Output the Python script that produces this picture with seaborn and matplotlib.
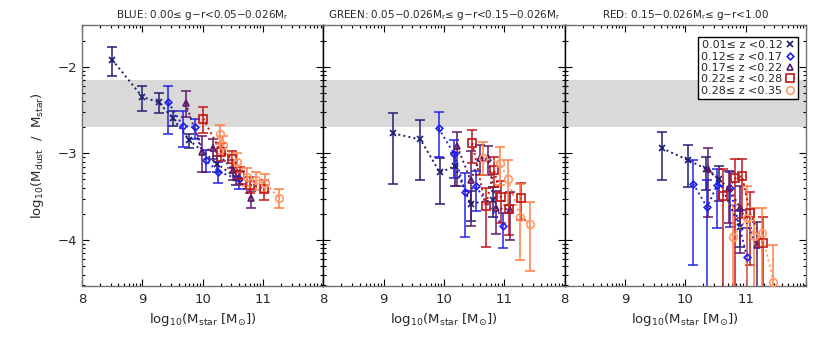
import numpy as np
import pandas as pd
import matplotlib
matplotlib.use("Agg")
import matplotlib.pyplot as plt
from matplotlib.lines import Line2D
import seaborn as sns

# ---------------- data ----------------
panel_titles = [
    "BLUE: 0.00≤ g−r<0.05−0.026M$_r$",
    "GREEN: 0.05−0.026M$_r$≤ g−r<0.15−0.026M$_r$",
    "RED: 0.15−0.026M$_r$≤ g−r<1.00",
]
z_labels = ["0.01≤ z <0.12", "0.12≤ z <0.17", "0.17≤ z <0.22",
            "0.22≤ z <0.28", "0.28≤ z <0.35"]

# BLUE panel: one list per redshift bin
blue_x = [[8.50, 9.00, 9.27, 9.50, 9.78, 10.24, 10.55],
          [9.43, 9.67, 9.87, 10.05, 10.26, 10.60],
          [9.72, 9.99, 10.17, 10.50, 10.80],
          [10.01, 10.30, 10.48, 10.62, 10.79, 11.02],
          [10.28, 10.33, 10.57, 10.73, 10.89, 11.03, 11.26]]
blue_y = [[-1.92, -2.35, -2.41, -2.59, -2.85, -3.12, -3.28],
          [-2.41, -2.68, -2.70, -3.08, -3.21, -3.30],
          [-2.42, -2.98, -2.94, -3.19, -3.52],
          [-2.60, -2.98, -3.06, -3.25, -3.36, -3.41],
          [-2.78, -2.90, -3.10, -3.27, -3.31, -3.34, -3.51]]
blue_ehi = [[0.15, 0.13, 0.11, 0.08, 0.07, 0.09, 0.08],
            [0.19, 0.17, 0.10, 0.12, 0.11, 0.09],
            [0.14, 0.18, 0.11, 0.11, 0.09],
            [0.13, 0.10, 0.09, 0.09, 0.09, 0.10],
            [0.11, 0.10, 0.10, 0.10, 0.10, 0.10, 0.10]]
blue_elo = [[0.19, 0.16, 0.12, 0.09, 0.09, 0.10, 0.09],
            [0.37, 0.25, 0.14, 0.13, 0.13, 0.11],
            [0.16, 0.23, 0.13, 0.12, 0.11],
            [0.16, 0.11, 0.11, 0.10, 0.10, 0.13],
            [0.11, 0.11, 0.11, 0.11, 0.11, 0.11, 0.12]]

# GREEN panel
green_x = [[9.16, 9.61, 9.93, 10.18, 10.44, 10.81],
           [9.91, 10.17, 10.35, 10.53, 10.97],
           [10.22, 10.44, 10.60, 10.73, 10.87, 11.10],
           [10.47, 10.69, 10.83, 10.94, 11.08, 11.28],
           [10.65, 10.93, 11.06, 11.26, 11.43]]
green_y = [[-2.77, -2.84, -3.22, -3.15, -3.58, -3.54],
           [-2.71, -3.01, -3.45, -3.38, -3.84],
           [-2.92, -3.31, -3.05, -3.05, -3.63, -3.65],
           [-2.88, -3.61, -3.19, -3.50, -3.64, -3.52],
           [-3.05, -3.11, -3.30, -3.73, -3.81]]
green_ehi = [[0.24, 0.23, 0.17, 0.15, 0.15, 0.15],
             [0.19, 0.16, 0.22, 0.18, 0.15],
             [0.17, 0.34, 0.15, 0.13, 0.20, 0.20],
             [0.15, 0.21, 0.15, 0.18, 0.18, 0.18],
             [0.18, 0.18, 0.22, 0.38, 0.25]]
green_elo = [[0.58, 0.47, 0.36, 0.23, 0.20, 0.20],
             [0.33, 0.27, 0.52, 0.29, 0.25],
             [0.46, 0.53, 0.20, 0.20, 0.30, 0.35],
             [0.23, 0.47, 0.20, 0.30, 0.30, 0.25],
             [0.20, 0.25, 0.30, 0.50, 0.55]]

# RED panel
red_x = [[9.61, 10.05, 10.35, 10.55, 10.90],
         [10.13, 10.36, 10.53, 10.74, 11.02],
         [10.37, 10.72, 10.91, 11.18],
         [10.62, 10.83, 10.94, 11.07, 11.29],
         [10.79, 11.02, 11.14, 11.27, 11.46]]
red_y = [[-2.94, -3.08, -3.18, -3.30, -3.85],
         [-3.35, -3.62, -3.36, -3.40, -4.19],
         [-3.18, -3.40, -3.63, -4.06],
         [-3.49, -3.29, -3.26, -3.69, -4.03],
         [-3.96, -3.75, -3.95, -3.92, -4.48]]
red_ehi = [[0.19, 0.18, 0.14, 0.15, 0.20],
           [0.27, 0.31, 0.18, 0.18, 0.33],
           [0.24, 0.20, 0.25, 0.27],
           [0.31, 0.22, 0.19, 0.24, 0.29],
           [0.36, 0.37, 0.32, 0.29, 0.42]]
red_elo = [[0.37, 0.31, 0.24, 0.25, 0.23],
           [0.94, 1.50, 0.50, 0.45, 1.00],
           [0.56, 0.40, 0.52, 1.00],
           [1.50, 1.50, 0.49, 0.60, 1.00],
           [1.00, 1.00, 1.00, 1.00, 0.30]]

band_lo, band_hi = -2.70, -2.15

# ---------------- style ----------------
colors = ["#1c1c72", "#1f1ff0", "#5a1868", "#c41414", "#ff7a3c"]
marker_colors = ["#1c1c72", "#1f1ff0", "#5a1868", "#c41414", "#ff9a68"]
markers = ["x", "D", "^", "s", "o"]
msizes = [5.0, 3.4, 5.0, 5.5, 5.5]

sns.set_theme(style="ticks")
plt.rcParams["font.family"] = ["DejaVu Sans"]
plt.rcParams["mathtext.default"] = "regular"

fig, axes = plt.subplots(1, 3, figsize=(8.3, 3.38), dpi=100, sharey=True)
fig.subplots_adjust(left=82/830, right=806/830, top=1-25/338, bottom=1-286/338, wspace=0)

panels = [(blue_x, blue_y, blue_elo, blue_ehi),
          (green_x, green_y, green_elo, green_ehi),
          (red_x, red_y, red_elo, red_ehi)]

xminor = [n + np.log10(k) for n in range(8, 12) for k in range(2, 10)]
yminor = [n + np.log10(k) for n in range(-5, -1) for k in range(2, 10)]

for i, (ax, (px, py, pl, ph)) in enumerate(zip(axes, panels)):
    ax.axhspan(band_lo, band_hi, color="#d9d9d9", zorder=0, lw=0)
    for j in range(5):
        df = pd.DataFrame({"x": px[j], "y": py[j]})
        ax.errorbar(df["x"], df["y"], yerr=[pl[j], ph[j]], fmt="none",
                    ecolor=colors[j], elinewidth=1.2, capsize=3.5, capthick=1.2,
                    zorder=2, alpha=0.9)
        sns.lineplot(data=df, x="x", y="y", ax=ax, color=marker_colors[j],
                     linestyle=":", linewidth=1.4, sort=False, estimator=None,
                     marker=markers[j], markersize=msizes[j],
                     markerfacecolor="none", markeredgecolor=marker_colors[j],
                     markeredgewidth=1.2, legend=False, zorder=3)
    ax.set_xticks([8, 9, 10, 11, 12])
    ax.set_xticklabels(["8", "9", "10", "11", ""])
    ax.set_xticks(xminor, minor=True)
    ax.set_yticks([-4, -3, -2])
    ax.set_yticks(yminor, minor=True)
    ax.set_xlim(8, 12)
    ax.set_ylim(-4.53, -1.52)
    ax.tick_params(which="both", direction="in", top=True, right=True,
                   labelsize=9.5, color="black", width=0.8)
    ax.tick_params(which="major", length=5)
    ax.tick_params(which="minor", length=2.5)
    ax.tick_params(axis="x", which="major", pad=5)
    ax.set_xlabel("log$_{10}$(M$_{star}$ [M$_{\\odot}$])", fontsize=9.5)
    ax.set_ylabel("")
    ax.set_title(panel_titles[i], fontsize=7.5, pad=5)
    for s in ax.spines.values():
        s.set_color("#707070")
        s.set_linewidth(1.0)
    if i > 0:
        ax.spines["left"].set_color("black")
    if i < 2:
        ax.spines["right"].set_color("black")

axes[0].set_yticklabels(["−4", "−3", "−2"])
axes[0].set_ylabel("log$_{10}$(M$_{dust}$  /  M$_{star}$)", fontsize=9.5, labelpad=8)
for ax in axes[1:]:
    ax.tick_params(labelleft=False)

handles = [Line2D([], [], linestyle="none", marker=markers[j], color=marker_colors[j],
                  markerfacecolor="none", markeredgecolor=marker_colors[j],
                  markeredgewidth=1.2, markersize=msizes[j]) for j in range(5)]
leg = axes[2].legend(handles, z_labels, loc="upper right", markerfirst=False,
                     bbox_to_anchor=(1 - 8/242, 1 - 12/261),
                     fontsize=8, frameon=True, fancybox=False, framealpha=1,
                     edgecolor="black", borderpad=0.3, labelspacing=0.12,
                     handlelength=0.8, handletextpad=0.3, borderaxespad=0.0)
leg.get_frame().set_linewidth(1.0)

fig.savefig("out.png", dpi=100)
